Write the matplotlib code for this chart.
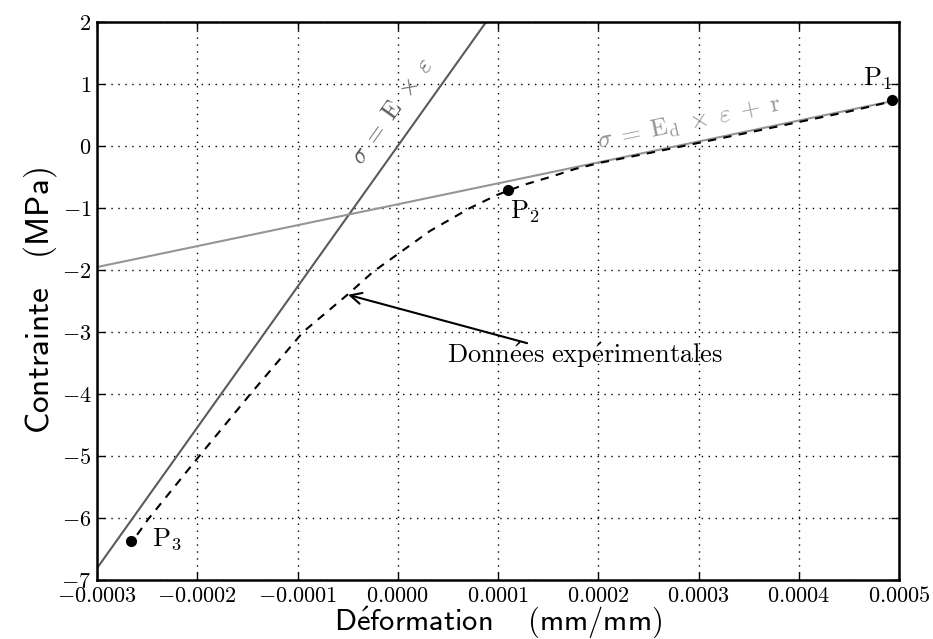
import numpy as np
import matplotlib
matplotlib.use("Agg")
import matplotlib.pyplot as plt
from matplotlib.ticker import FuncFormatter, MultipleLocator

plt.rcParams['mathtext.fontset'] = 'cm'
plt.rcParams['font.family'] = ['DejaVu Sans']

# Experimental curve (strain mm/mm, stress MPa)
strain_exp = [-0.000260, -0.000249, -0.000199, -0.000147, -0.0000945, -0.0000496,
              -0.0000247, 0.0000003, 0.0000322, 0.0000721, 0.0000990, 0.000125,
              0.000152, 0.000177, 0.000202, 0.000252, 0.000300, 0.000351,
              0.000451, 0.000493]
stress_exp = [-6.27, -6.02, -5.02, -4.00, -3.00, -2.39,
              -2.03, -1.74, -1.37, -1.00, -0.79, -0.63,
              -0.50, -0.37, -0.27, -0.11, 0.05, 0.22,
              0.56, 0.72]

# Characteristic points
pt_x = [0.000493, 0.000110, -0.000266]
pt_y = [0.74, -0.71, -6.37]
pt_labels = [r'$\mathrm{P_1}$', r'$\mathrm{P_2}$', r'$\mathrm{P_3}$']

# Line parameters
E = 22700.0      # MPa
Ed = 3375.0      # MPa
r = -0.94        # MPa

xlim = (-0.0003, 0.0005)
ylim = (-7, 2)

fig = plt.figure(figsize=(9.33, 6.39), dpi=100)
ax = fig.add_subplot(111)
fig.subplots_adjust(left=0.104, right=0.9636, bottom=0.0923, top=0.9656)

xl = np.array(xlim)
ax.plot(xl, E * xl, color='#5a5a5a', lw=1.5)
ax.plot(xl, Ed * xl + r, color='#959595', lw=1.5)
ax.plot(strain_exp, stress_exp, color='black', lw=1.5, dashes=(4, 3.5))
ax.plot(pt_x, pt_y, 'o', color='black', ms=7)

# labels of points
ax.text(0.000464, 0.98, pt_labels[0], fontsize=19, va='baseline')
ax.text(0.000112, -1.16, pt_labels[1], fontsize=19, va='baseline')
ax.text(-0.000245, -6.44, pt_labels[2], fontsize=19, va='baseline')

# line equations
ax.text(-0.0000327, -0.36, r'$\sigma\;=\;\mathrm{E}\;\times\;\varepsilon$', fontsize=18,
        color='#5a5a5a', rotation=54.5, rotation_mode='anchor', ha='left', va='bottom')
ax.text(0.0002017, -0.15, r'$\sigma\;=\;\mathrm{E_d}\;\times\;\varepsilon\;+\;\mathrm{r}$', fontsize=18,
        color='#959595', rotation=11.8, rotation_mode='anchor', ha='left', va='bottom')

# experimental data annotation
ax.annotate('', xy=(-0.0000496, -2.40), xytext=(0.000129, -3.18),
            arrowprops=dict(arrowstyle='->', color='black', lw=1.5, shrinkA=0, shrinkB=0,
                            mutation_scale=20))
ax.text(0.0000491, -3.50, r'$\mathrm{Donn\acute{e}es\ exp\acute{e}rimentales}$', fontsize=19,
        va='baseline')

ax.set_xlim(xlim)
ax.set_ylim(ylim)
ax.xaxis.set_major_locator(MultipleLocator(0.0001))
ax.yaxis.set_major_locator(MultipleLocator(1))
ax.xaxis.set_major_formatter(FuncFormatter(lambda v, p: r'$%.4f$' % v))
ax.yaxis.set_major_formatter(FuncFormatter(lambda v, p: r'$%d$' % round(v)))
ax.tick_params(direction='in', top=True, right=True, length=6, width=1, labelsize=16, pad=4)
ax.grid(True, color='black', linestyle=(0, (1, 4)), lw=1)
for s in ax.spines.values():
    s.set_linewidth(1.8)

ax.set_xlabel(r'$\mathsf{D\acute{e}formation}\quad\;(\mathsf{mm/mm})$', fontsize=22, labelpad=-1)
ax.set_ylabel(r'$\mathsf{Contrainte}\quad(\mathsf{MPa})$', fontsize=24, labelpad=2)

fig.savefig('out.png', dpi=100)
